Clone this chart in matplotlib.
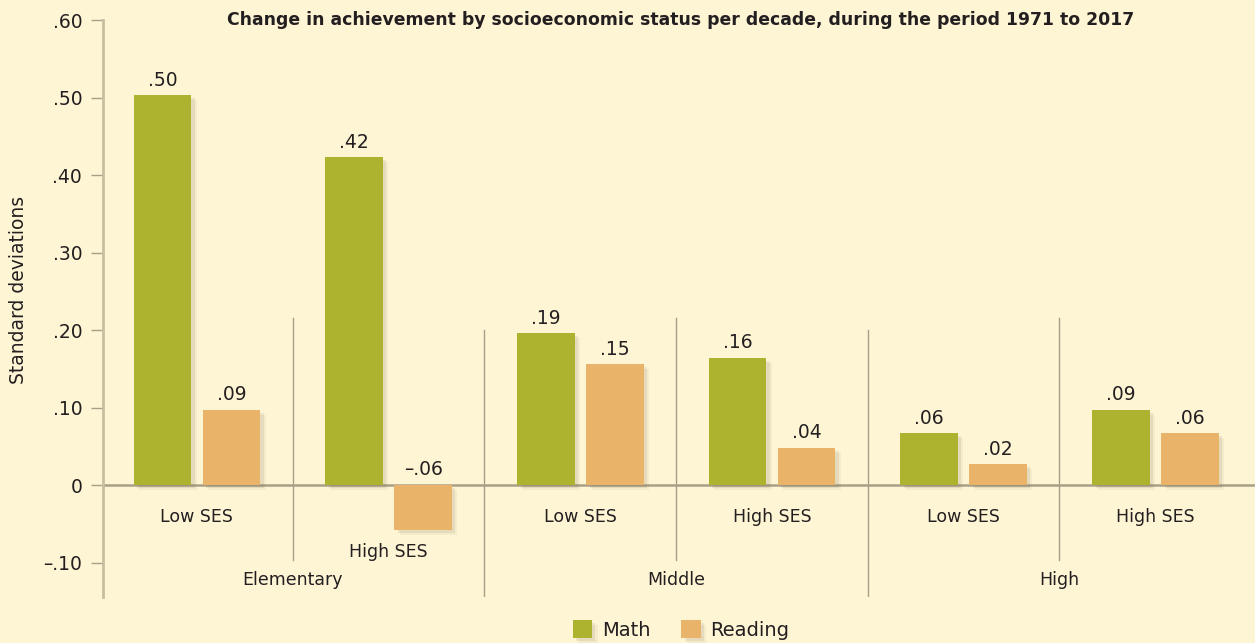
from matplotlib import pyplot as plt
from matplotlib import patheffects
import numpy as np

# values (standard deviations per decade)
levels = ['Elementary', 'Middle', 'High']
ses_groups = ['Low SES', 'High SES', 'Low SES', 'High SES', 'Low SES', 'High SES']
math_vals = [0.503, 0.423, 0.196, 0.164, 0.067, 0.097]
reading_vals = [0.097, -0.058, 0.156, 0.048, 0.027, 0.067]
math_labels = ['.50', '.42', '.19', '.16', '.06', '.09']
reading_labels = ['.09', '\u2013.06', '.15', '.04', '.02', '.06']
yticks = [-0.10, 0, 0.10, 0.20, 0.30, 0.40, 0.50, 0.60]
ytick_labels = ['\u2013.10', '0', '.10', '.20', '.30', '.40', '.50', '.60']

BG = '#fef5d5'
MATH = '#adb22f'
READ = '#e9b46a'
LINE = '#a89f88'
TEXT = '#231f20'

plt.rcParams['font.family'] = ['DejaVu Sans']

fig = plt.figure(figsize=(12.55, 6.43), dpi=100, facecolor=BG)
ax = fig.add_axes([103 / 1255, 1 - 597 / 643, 1 - 103 / 1255, (597 - 20) / 643])
ax.set_facecolor(BG)

x = np.arange(len(ses_groups))
w = 0.30
off = 0.18
shadow = [patheffects.SimplePatchShadow(offset=(4, -3.5), shadow_rgbFace='#7a6f50', alpha=0.07),
          patheffects.SimplePatchShadow(offset=(2.5, -2), shadow_rgbFace='#7a6f50', alpha=0.12),
          patheffects.Normal()]
b1 = ax.bar(x - off, math_vals, w, color=MATH, label='Math', zorder=3)
b2 = ax.bar(x + off, reading_vals, w, color=READ, label='Reading', zorder=3)
for b in list(b1) + list(b2):
    b.set_path_effects(shadow)

# value labels
for xi, v, lab in zip(x - off, math_vals, math_labels):
    ax.annotate(lab, (xi, max(v, 0)), xytext=(0, 4), textcoords='offset points',
                ha='center', va='bottom', fontsize=13.5, color=TEXT)
for xi, v, lab in zip(x + off, reading_vals, reading_labels):
    ax.annotate(lab, (xi, max(v, 0)), xytext=(0, 4), textcoords='offset points',
                ha='center', va='bottom', fontsize=13.5, color=TEXT)

# SES and level labels
for xi, lab, r in zip(x, ses_groups, reading_vals):
    y = -0.0865 if r < 0 else -0.041
    ax.text(xi, y, lab, ha='center', va='center', fontsize=12.5, color=TEXT)
for i, lab in enumerate(levels):
    ax.text(2 * i + 0.5, -0.1226, lab, ha='center', va='center', fontsize=12.5, color=TEXT)

# dividers
for xd in [0.5, 2.5, 4.5]:
    ax.plot([xd, xd], [0.2155, -0.0968], color=LINE, lw=1, zorder=1)
for xd in [1.5, 3.5]:
    ax.plot([xd, xd], [0.200, -0.1445], color=LINE, lw=1, zorder=1)

ax.axhline(0, color=LINE, lw=1.8, zorder=2)
ax.set_xlim(-0.49, 5.52)
ax.set_ylim(-0.1445, 0.60)
ax.set_xticks([])
ax.set_yticks(yticks)
ax.set_yticklabels(ytick_labels, fontsize=13.5, color=TEXT)
ax.tick_params(axis='y', direction='out', length=9, width=1, color=LINE, pad=6)
for s in ['top', 'right', 'bottom']:
    ax.spines[s].set_visible(False)
ax.spines['left'].set_color('#c9bd9f')
ax.spines['left'].set_linewidth(2)
ax.set_ylabel('Standard deviations', fontsize=13.5, color=TEXT)
ax.yaxis.set_label_coords(-75 / 1152, (597 - 290) / 577)

ax.set_title('Change in achievement by socioeconomic status per decade, during the period 1971 to 2017',
             fontsize=12.4, fontweight='bold', color=TEXT, x=(681 - 103) / 1152, y=1.0, pad=0,
             va='center')

fig.legend(handles=[b1, b2], labels=['Math', 'Reading'], loc='center', ncol=2,
           bbox_to_anchor=(681 / 1255, 1 - 630 / 643), frameon=False, fontsize=14,
           handlelength=1.0, handleheight=1.0, columnspacing=1.6, handletextpad=0.5,
           labelcolor=TEXT)

fig.savefig('out.png', facecolor=BG)
